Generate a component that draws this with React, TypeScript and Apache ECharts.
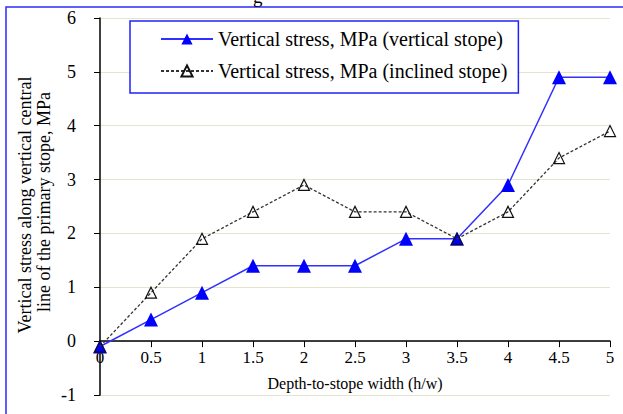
import React, { useEffect, useRef } from "react";
import * as echarts from "echarts";

const xValues = [0, 0.5, 1, 1.5, 2, 2.5, 3, 3.5, 4, 4.5, 5];
const verticalStope = [-0.1, 0.4, 0.9, 1.4, 1.4, 1.4, 1.9, 1.9, 2.9, 4.9, 4.9];
const inclinedStope = [-0.1, 0.9, 1.9, 2.4, 2.9, 2.4, 2.4, 1.9, 2.4, 3.4, 3.9];
const seriesNames = [
  "Vertical stress, MPa (vertical stope)",
  "Vertical stress, MPa (inclined stope)",
];
const xAxisTitle = "Depth-to-stope width (h/w)";
const yAxisTitleLines = [
  "Vertical stress along vertical central",
  "line of the primary stope, MPa",
];

const FONT = "'Liberation Serif', 'Times New Roman', serif";
const Y_MIN = -1;
const Y_MAX = 6;
const GRID_TOP = 18;
const GRID_BOTTOM = 19;
const HEIGHT = 414;

export default function App() {
  const ref = useRef<HTMLDivElement>(null);
  useEffect(() => {
    if (!ref.current) return;
    const chart = echarts.init(ref.current, undefined, { renderer: "svg" });
    const unitPx = (HEIGHT - GRID_TOP - GRID_BOTTOM) / (Y_MAX - Y_MIN);
    chart.setOption({
      animation: false,
      backgroundColor: "#ffffff",
      textStyle: { fontFamily: FONT },
      graphic: [
        {
          type: "rect",
          shape: { x: 6, y: 7, width: 640, height: 440 },
          style: { fill: "none", stroke: "#2b2bff", lineWidth: 1.5 },
          z: -1,
        },
        {
          type: "text",
          x: 253,
          y: -13,
          style: { text: "g", font: `19px ${FONT}`, fill: "#000" },
        },
        {
          type: "text",
          x: 25,
          y: 205,
          rotation: Math.PI / 2,
          style: {
            text: yAxisTitleLines[0],
            font: `18px ${FONT}`,
            fill: "#000",
            align: "center",
            verticalAlign: "middle",
          },
        },
        {
          type: "text",
          x: 44,
          y: 202,
          rotation: Math.PI / 2,
          style: {
            text: yAxisTitleLines[1],
            font: `18px ${FONT}`,
            fill: "#000",
            align: "center",
            verticalAlign: "middle",
          },
        },
      ],
      grid: {
        left: 100,
        right: 13,
        top: GRID_TOP,
        bottom: GRID_BOTTOM,
        outerBoundsMode: "none",
        containLabel: false,
      },
      legend: {
        orient: "vertical",
        left: 130,
        top: 21,
        padding: [8, 11, 12, 30],
        itemWidth: 52,
        itemHeight: 14,
        itemGap: 12,
        borderColor: "#2020ff",
        borderWidth: 1.5,
        backgroundColor: "#fff",
        textStyle: { fontFamily: FONT, fontSize: 20, color: "#000" },
        data: seriesNames,
      },
      xAxis: {
        type: "value",
        min: 0,
        max: 5,
        interval: 0.5,
        offset: -unitPx,
        name: xAxisTitle,
        nameLocation: "middle",
        nameGap: 34,
        nameTextStyle: { fontFamily: FONT, fontSize: 16, color: "#000" },
        axisLine: { onZero: false, lineStyle: { color: "#000", width: 1.5 } },
        axisTick: { show: true, length: 6, lineStyle: { color: "#000" } },
        axisLabel: { fontFamily: FONT, fontSize: 17, color: "#000", margin: 8 },
        splitLine: { show: false },
      },
      yAxis: {
        type: "value",
        min: Y_MIN,
        max: Y_MAX,
        interval: 1,
        axisLine: { show: true, onZero: false, lineStyle: { color: "#000", width: 1.5 } },
        axisTick: { show: true, length: 6, lineStyle: { color: "#000" } },
        axisLabel: { fontFamily: FONT, fontSize: 18, color: "#000", margin: 24 },
        splitLine: { show: true, lineStyle: { color: "#e4e4cf", width: 1 } },
      },
      series: [
        {
          name: seriesNames[0],
          type: "line",
          data: xValues.map((x, i) => [x, verticalStope[i]]),
          symbol: "triangle",
          symbolSize: 14,
          lineStyle: { color: "#3030ff", width: 1.5 },
          itemStyle: { color: "#0000ff" },
          z: 2,
        },
        {
          name: seriesNames[1],
          type: "line",
          data: xValues.map((x, i) => [x, inclinedStope[i]]),
          symbol: "triangle",
          symbolSize: 11,
          lineStyle: { color: "#333", width: 1.3, type: [3, 2] },
          itemStyle: { color: "rgba(255,255,255,0)", borderColor: "#111", borderWidth: 1.2 },
          z: 3,
        },
      ],
    });
    return () => chart.dispose();
  }, []);
  return (
    <div
      ref={ref}
      style={{ position: "fixed", left: 0, top: 0, width: 623, height: 414 }}
    />
  );
}
